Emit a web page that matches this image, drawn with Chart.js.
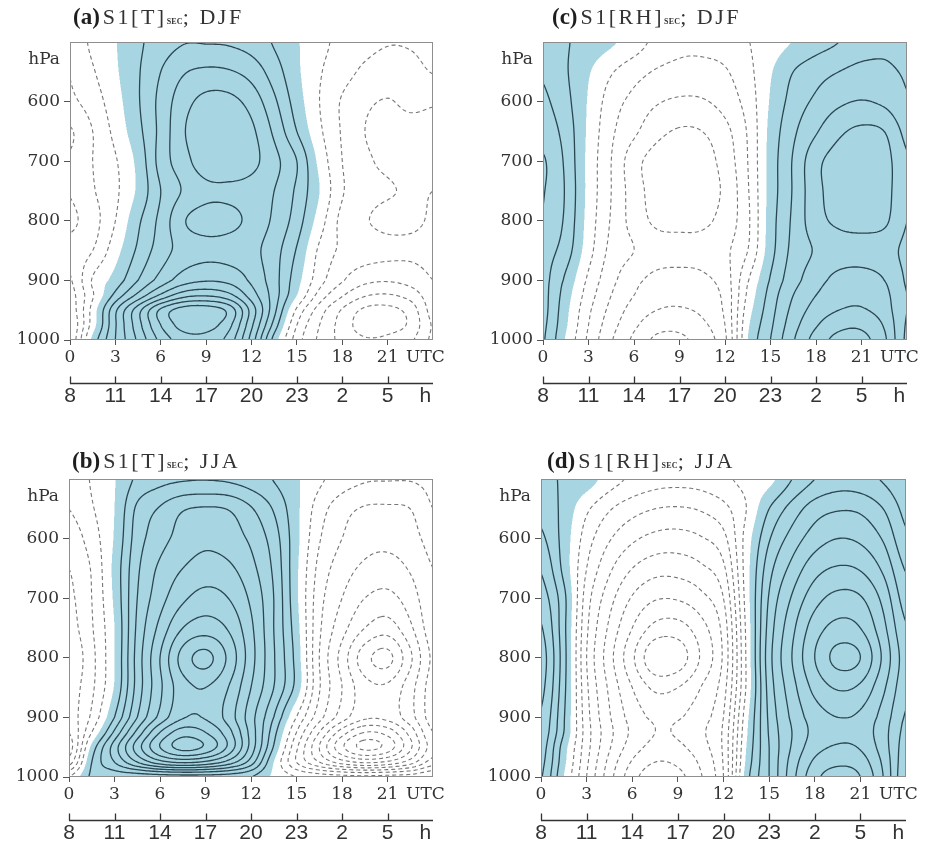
<!DOCTYPE html>
<html>
<head>
<meta charset="utf-8">
<title>S1 diurnal cycle sections</title>
<script src="https://cdn.jsdelivr.net/npm/chart.js@4.4.1/dist/chart.umd.min.js"></script>
<style>
  html, body { margin: 0; padding: 0; background: #fff; }
  body { position: relative; width: 934px; height: 847px; overflow: hidden; }
  canvas { position: absolute; }
  .title { position: absolute; white-space: nowrap; color: #333;
           font: 22px/22px 'Liberation Serif', serif; letter-spacing: 2.5px; }
  .title b { font: bold 23px 'Liberation Serif', serif; letter-spacing: 0; color: #1e1e1e; margin-right: 3px; }
  .title .sub { font: bold 8px 'Liberation Serif', serif; letter-spacing: 0.2px; }
  .title .gap { margin-left: 8px; }
</style>
</head>
<body>
<canvas id="panelA" width="465" height="420" style="left:0;top:0"></canvas>
<canvas id="panelC" width="469" height="420" style="left:465px;top:0"></canvas>
<canvas id="panelB" width="465" height="427" style="left:0;top:420px"></canvas>
<canvas id="panelD" width="469" height="427" style="left:465px;top:420px"></canvas>
<div class="title" style="left:73px;top:4px"><b>(a)</b>S1[T]<span class="sub">SEC</span>;<span class="gap">DJF</span></div>
<div class="title" style="left:552px;top:4px"><b>(c)</b>S1[RH]<span class="sub">SEC</span>;<span class="gap">DJF</span></div>
<div class="title" style="left:72px;top:448px"><b>(b)</b>S1[T]<span class="sub">SEC</span>;<span class="gap">JJA</span></div>
<div class="title" style="left:547px;top:448px"><b>(d)</b>S1[RH]<span class="sub">SEC</span>;<span class="gap">JJA</span></div>
<script>
// grid columns (UTC hour) and rows (pressure, hPa)
const hoursUTC = [0, 1.5, 3, 4.5, 6, 7.5, 9, 10.5, 12, 13.5, 15, 16.5, 18, 19.5, 21, 22.5, 24];
const pressureLevels = [500, 550, 600, 650, 700, 750, 800, 850, 900, 925, 950, 975, 1000];

const utcTicks = [0, 3, 6, 9, 12, 15, 18, 21];
const localTimeLabels = ['8', '11', '14', '17', '20', '23', '2', '5'];
const pressureTicks = [600, 700, 800, 900, 1000];

// S1[T] DJF  (rows follow pressureLevels, columns follow hoursUTC)
const tempDJF = [
  [-1.6, -0.8, -0.05, 0.8, 1.5, 1.95, 1.95, 1.9, 1.6, 0.9, 0.1, -0.7, -1.3, -1.7, -1.95, -1.9, -1.6],
  [-1.95, -1.1, -0.15, 0.9, 2.0, 2.9, 3.2, 3.1, 2.6, 1.5, 0.2, -0.9, -1.6, -2.2, -2.5, -2.4, -1.95],
  [-2.2, -1.5, -0.4, 0.9, 2.3, 3.6, 4.3, 4.3, 3.6, 2.2, 0.5, -1.0, -2.1, -2.8, -3.05, -2.8, -2.9],
  [-3.1, -2.0, -0.7, 0.7, 2.3, 3.9, 4.7, 4.8, 4.2, 2.8, 1.0, -0.8, -2.1, -3.0, -3.3, -3.3, -3.2],
  [-2.9, -2.0, -1.1, 0.3, 2.4, 3.6, 4.6, 4.7, 4.3, 3.3, 2.0, -0.3, -2.0, -2.8, -3.2, -3.3, -3.15],
  [-2.95, -2.1, -1.2, 0.2, 2.0, 3.1, 3.75, 3.8, 3.6, 3.0, 1.8, 0.0, -1.9, -2.6, -2.9, -3.1, -3.0],
  [-3.2, -2.4, -1.0, 0.8, 2.3, 3.9, 4.4, 4.3, 3.7, 2.8, 1.5, -0.5, -2.3, -2.9, -3.3, -3.2, -2.9],
  [-2.7, -2.0, -0.4, 1.2, 2.5, 3.4, 3.7, 3.6, 3.3, 2.4, 0.9, -1.2, -2.2, -2.5, -2.7, -2.8, -2.7],
  [-3.1, -0.9, 0.4, 2.0, 3.4, 4.5, 4.9, 4.7, 3.8, 2.4, 0.4, -1.6, -2.9, -3.7, -3.9, -3.6, -3.0],
  [-3.4, -1.1, 1.3, 3.3, 5.2, 6.6, 6.9, 6.3, 4.5, 2.5, 0.0, -2.4, -3.9, -4.9, -5.1, -4.6, -3.4],
  [-3.6, -0.6, 2.8, 5.6, 8.2, 9.5, 9.6, 8.7, 5.6, 2.3, -1.2, -3.5, -5.1, -6.2, -6.3, -5.6, -3.6],
  [-3.9, -0.5, 2.9, 5.6, 8.0, 9.4, 9.4, 8.3, 5.2, 1.6, -2.0, -4.0, -5.4, -6.5, -6.4, -5.8, -3.9],
  [-3.8, 0.3, 3.0, 5.2, 7.3, 8.5, 8.6, 7.6, 4.6, 0.6, -2.5, -4.2, -5.3, -5.9, -5.8, -5.2, -3.8]
];

// S1[RH] DJF
const rhDJF = [
  [1.7, 1.1, 0.6, 0.15, -0.5, -1.3, -1.75, -1.8, -1.6, -1.05, -0.5, 0.05, 0.6, 1.0, 1.5, 1.8, 1.6],
  [1.9, 1.1, 0.1, -0.9, -1.6, -2.1, -2.3, -2.3, -2.1, -1.3, -0.1, 1.0, 1.6, 2.0, 2.3, 2.2, 1.9],
  [2.2, 1.3, -0.1, -1.5, -2.3, -2.9, -3.15, -3.1, -2.6, -1.6, 0.1, 1.4, 2.2, 2.8, 3.05, 2.8, 2.1],
  [2.6, 1.6, -0.2, -1.8, -2.8, -3.7, -4.1, -4.0, -3.3, -1.9, 0.3, 1.8, 2.9, 3.8, 4.2, 4.0, 2.7],
  [3.1, 1.8, -0.3, -2.0, -3.6, -4.4, -4.5, -4.4, -3.6, -2.0, 0.4, 2.1, 3.7, 4.4, 4.6, 4.4, 3.1],
  [3.05, 1.9, -0.3, -2.0, -3.5, -4.4, -4.5, -4.4, -3.8, -2.1, 0.4, 2.1, 3.7, 4.4, 4.6, 4.4, 3.1],
  [2.9, 1.8, -0.4, -2.1, -3.4, -4.2, -4.3, -4.2, -3.6, -2.2, 0.5, 2.2, 3.6, 4.2, 4.35, 4.2, 3.0],
  [2.4, 1.5, -0.6, -2.3, -3.0, -3.5, -3.6, -3.6, -3.2, -2.0, 0.6, 2.3, 3.1, 3.5, 3.6, 3.4, 2.8],
  [2.3, 0.8, -1.2, -2.7, -3.7, -4.3, -4.4, -4.2, -3.5, -1.1, 1.1, 2.6, 3.6, 4.3, 4.4, 4.0, 2.9],
  [2.3, 0.5, -1.5, -3.0, -4.0, -4.6, -4.75, -4.5, -3.7, -0.8, 1.4, 3.0, 4.0, 4.6, 4.75, 4.3, 3.0],
  [2.3, 0.3, -1.8, -3.3, -4.4, -5.0, -5.1, -4.8, -3.8, -0.5, 1.6, 3.3, 4.4, 5.0, 5.1, 4.5, 3.0],
  [2.2, 0.15, -2.0, -3.6, -4.8, -5.6, -5.7, -5.2, -4.0, -0.2, 1.8, 3.6, 4.9, 5.7, 5.8, 4.9, 2.9],
  [2.1, -0.1, -2.2, -3.9, -5.2, -6.2, -6.2, -5.5, -4.2, 0.0, 2.0, 3.9, 5.4, 6.3, 6.3, 5.2, 2.8]
];

// S1[T] JJA
const tempJJA = [
  [-1.8, -0.9, -0.05, 1.2, 1.7, 1.9, 1.95, 1.85, 1.5, 0.95, 0.15, -0.8, -1.5, -1.9, -1.95, -1.95, -1.8],
  [-2.0, -1.1, 0.0, 2.2, 3.1, 3.9, 4.1, 3.95, 3.1, 1.9, 0.25, -1.5, -2.6, -3.1, -3.15, -3.0, -2.0],
  [-2.6, -1.5, 0.1, 2.5, 3.6, 4.4, 4.75, 4.5, 3.8, 2.5, 0.3, -1.9, -3.0, -3.6, -3.7, -3.4, -2.6],
  [-3.0, -1.9, 0.3, 2.8, 4.2, 5.0, 5.4, 5.2, 4.3, 2.8, 0.2, -2.3, -3.5, -4.2, -4.4, -3.9, -3.0],
  [-3.2, -2.0, 0.2, 3.0, 4.6, 5.8, 6.4, 6.0, 4.8, 3.0, 0.2, -2.6, -4.0, -5.0, -5.3, -4.5, -3.2],
  [-3.4, -2.1, 0.0, 3.2, 5.3, 7.0, 7.5, 6.9, 5.2, 3.0, 0.4, -2.8, -4.6, -6.0, -6.5, -5.2, -3.4],
  [-3.8, -2.3, 0.0, 3.4, 6.0, 8.4, 9.3, 7.8, 5.4, 3.1, 0.6, -3.0, -5.4, -7.6, -8.3, -6.2, -3.8],
  [-3.5, -2.2, 0.1, 3.4, 5.8, 7.6, 8.0, 7.0, 5.0, 3.0, 0.6, -2.9, -5.0, -6.6, -6.8, -5.4, -3.5],
  [-3.5, -1.8, 1.0, 4.0, 6.3, 7.9, 7.9, 6.6, 4.4, 2.0, -1.0, -3.6, -5.5, -6.8, -6.7, -5.4, -3.5],
  [-4.0, -1.0, 2.2, 5.3, 8.0, 9.5, 9.0, 7.4, 4.6, 1.4, -2.0, -5.0, -7.5, -9.0, -8.6, -6.6, -4.0],
  [-4.5, 0.3, 3.5, 6.5, 9.0, 10.4, 9.8, 7.8, 4.6, 0.9, -2.8, -6.0, -8.8, -10.3, -9.6, -7.2, -4.5],
  [-3.5, 1.0, 3.0, 5.0, 6.6, 7.2, 6.8, 5.6, 3.5, 0.0, -3.0, -5.0, -6.5, -7.2, -6.8, -5.5, -3.5],
  [-1.0, 1.2, 1.3, 1.3, 1.4, 1.5, 1.5, 1.4, 1.0, -0.2, -1.0, -1.4, -1.6, -1.7, -1.6, -1.5, -1.0]
];

// S1[RH] JJA
const rhJJA = [
  [1.2, 0.9, 0.5, -0.5, -1.2, -1.6, -1.7, -1.6, -1.2, -0.7, -0.3, 1.0, 2.0, 2.5, 2.4, 1.9, 1.2],
  [1.7, 0.7, -0.8, -1.9, -2.6, -3.0, -3.1, -2.9, -2.3, -1.0, 1.0, 2.4, 3.5, 3.9, 3.8, 3.0, 1.7],
  [2.2, 0.6, -1.5, -2.9, -3.8, -4.3, -4.4, -4.1, -3.3, -0.6, 1.9, 3.4, 4.5, 5.0, 4.8, 3.9, 2.2],
  [2.9, 0.7, -2.0, -3.8, -5.0, -5.6, -5.6, -5.2, -4.2, -0.5, 2.6, 4.3, 5.6, 6.1, 5.9, 4.8, 2.9],
  [3.5, 1.3, -2.5, -4.6, -6.1, -6.9, -6.9, -6.3, -5.0, -0.6, 3.1, 5.1, 6.6, 7.3, 7.1, 5.7, 3.5],
  [4.1, 1.3, -2.8, -5.2, -7.0, -8.3, -8.4, -7.4, -5.6, -0.8, 3.4, 5.7, 7.5, 8.3, 8.0, 6.3, 4.1],
  [4.5, 1.4, -3.0, -5.6, -7.8, -9.8, -9.6, -7.9, -5.8, -0.9, 3.6, 6.0, 8.0, 9.3, 9.0, 6.8, 4.5],
  [4.3, 1.3, -2.8, -5.2, -7.0, -8.2, -8.0, -7.0, -5.4, -0.9, 3.4, 5.6, 7.3, 8.1, 7.8, 6.2, 4.3],
  [3.9, 1.1, -2.6, -4.9, -6.4, -7.2, -7.1, -6.4, -5.0, -0.4, 3.2, 5.2, 6.5, 7.0, 6.8, 5.6, 3.9],
  [3.7, 1.0, -2.5, -4.7, -6.2, -7.0, -6.9, -6.2, -4.8, -0.2, 3.1, 5.0, 6.3, 6.8, 6.6, 5.4, 3.7],
  [3.5, 0.5, -2.6, -4.9, -6.5, -7.3, -7.2, -6.4, -4.8, 0.0, 3.0, 5.1, 6.6, 7.1, 6.9, 5.5, 3.5],
  [3.3, 0.3, -2.8, -5.3, -7.1, -8.0, -7.8, -6.8, -4.9, 0.2, 3.0, 5.4, 7.2, 7.8, 7.5, 5.8, 3.3],
  [3.1, 0.0, -3.0, -5.6, -7.6, -8.6, -8.3, -7.1, -5.0, 0.5, 3.0, 5.6, 7.7, 8.4, 8.0, 6.0, 3.1]
];

const UNIT_X = 23.5;   // where "UTC" / "h" sit on the time axes
const UNIT_Y = 530;    // where "hPa" sits on the pressure axis
const FILL = [168, 213, 226];
const SOLID = '#2a4651';
const DASHED = '#777';

function fracIndex(arr, v) {
  const n = arr.length - 1;
  if (v <= arr[0]) return 0;
  if (v >= arr[n]) return n;
  let i = 0;
  while (arr[i + 1] < v) i++;
  return i + (v - arr[i]) / (arr[i + 1] - arr[i]);
}

function cr(a, b, c, d, s) {
  return b + 0.5 * s * (c - a + s * (2 * a - 5 * b + 4 * c - d + s * (3 * (b - c) + d - a)));
}

// smooth (Catmull-Rom) reading of a grid at fractional indices
function makeSampler(grid) {
  const nr = grid.length, nc = grid[0].length;
  const at = (r, c) => grid[r < 0 ? 0 : r >= nr ? nr - 1 : r][c < 0 ? 0 : c >= nc ? nc - 1 : c];
  return (u, v) => {
    let c0 = Math.floor(u), r0 = Math.floor(v);
    if (c0 > nc - 2) c0 = nc - 2;
    if (r0 > nr - 2) r0 = nr - 2;
    const su = u - c0, sv = v - r0;
    const r = [];
    for (let k = -1; k <= 2; k++) {
      r.push(cr(at(r0 + k, c0 - 1), at(r0 + k, c0), at(r0 + k, c0 + 1), at(r0 + k, c0 + 2), su));
    }
    return cr(r[0], r[1], r[2], r[3], sv);
  };
}

// marching squares, segments chained into polylines
function trace(vals, nx, ny, xs, ys, level) {
  const W = nx + 1;
  const pts = new Map(), adj = new Map();
  const hId = (i, j) => (j * nx + i) * 2;
  const vId = (i, j) => (j * W + i) * 2 + 1;
  const cross = (id, i1, j1, i2, j2) => {
    if (!pts.has(id)) {
      const a = vals[j1 * W + i1], b = vals[j2 * W + i2];
      const s = (level - a) / (b - a);
      pts.set(id, [xs[i1] + (xs[i2] - xs[i1]) * s, ys[j1] + (ys[j2] - ys[j1]) * s]);
    }
    return id;
  };
  const link = (p, q) => {
    if (!adj.has(p)) adj.set(p, []);
    if (!adj.has(q)) adj.set(q, []);
    adj.get(p).push(q);
    adj.get(q).push(p);
  };
  for (let j = 0; j < ny; j++) {
    for (let i = 0; i < nx; i++) {
      const a = vals[j * W + i], b = vals[j * W + i + 1];
      const c = vals[(j + 1) * W + i + 1], d = vals[(j + 1) * W + i];
      const A = a > level, B = b > level, C = c > level, D = d > level;
      const e = [];
      if (A !== B) e.push(cross(hId(i, j), i, j, i + 1, j));
      if (B !== C) e.push(cross(vId(i + 1, j), i + 1, j, i + 1, j + 1));
      if (C !== D) e.push(cross(hId(i, j + 1), i, j + 1, i + 1, j + 1));
      if (D !== A) e.push(cross(vId(i, j), i, j, i, j + 1));
      if (e.length === 2) link(e[0], e[1]);
      else if (e.length === 4) {
        const mid = (a + b + c + d) / 4 > level;
        if (A === mid) { link(e[0], e[1]); link(e[2], e[3]); }
        else { link(e[3], e[0]); link(e[1], e[2]); }
      }
    }
  }
  const used = new Set(), lines = [];
  const walk = (start) => {
    const line = [start];
    used.add(start);
    let cur = start;
    for (;;) {
      const nb = adj.get(cur).find(n => !used.has(n));
      if (nb === undefined) {
        if (line.length > 2 && adj.get(cur).includes(start)) line.push(start);
        break;
      }
      used.add(nb);
      line.push(nb);
      cur = nb;
    }
    return line.map(id => pts.get(id));
  };
  for (const [id, nb] of adj) if (nb.length === 1 && !used.has(id)) lines.push(walk(id));
  for (const id of adj.keys()) if (!used.has(id)) lines.push(walk(id));
  return lines;
}

const contourLayer = (grid) => ({
  id: 'contour',
  beforeDatasetsDraw(chart) {
    const { ctx, chartArea: a, scales: { x, y } } = chart;
    const field = makeSampler(grid);
    const W = Math.round(a.right - a.left), H = Math.round(a.bottom - a.top);

    // shading of the positive part, 2x2 samples per pixel
    const uSub = [], vSub = [];
    for (let i = 0; i < W * 2; i++) uSub.push(fracIndex(hoursUTC, x.getValueForPixel(a.left + (i + 0.5) / 2)));
    for (let j = 0; j < H * 2; j++) vSub.push(fracIndex(pressureLevels, y.getValueForPixel(a.top + (j + 0.5) / 2)));
    const off = document.createElement('canvas');
    off.width = W; off.height = H;
    const octx = off.getContext('2d');
    const img = octx.createImageData(W, H);
    for (let j = 0; j < H; j++) {
      for (let i = 0; i < W; i++) {
        let n = 0;
        for (let dj = 0; dj < 2; dj++)
          for (let di = 0; di < 2; di++)
            if (field(uSub[2 * i + di], vSub[2 * j + dj]) > 0) n++;
        if (n) {
          const k = (j * W + i) * 4;
          img.data[k] = FILL[0]; img.data[k + 1] = FILL[1]; img.data[k + 2] = FILL[2];
          img.data[k + 3] = Math.round(255 * n / 4);
        }
      }
    }
    octx.putImageData(img, 0, 0);
    ctx.drawImage(off, Math.round(a.left), Math.round(a.top));

    // contour lines
    const nx = Math.ceil(W / 2), ny = Math.ceil(H / 2);
    const xs = [], ys = [], us = [], vs = [];
    for (let i = 0; i <= nx; i++) {
      xs.push(a.left + i * W / nx);
      us.push(fracIndex(hoursUTC, x.getValueForPixel(xs[i])));
    }
    for (let j = 0; j <= ny; j++) {
      ys.push(a.top + j * H / ny);
      vs.push(fracIndex(pressureLevels, y.getValueForPixel(ys[j])));
    }
    const vals = new Float64Array((nx + 1) * (ny + 1));
    let lo = Infinity, hi = -Infinity;
    for (let j = 0; j <= ny; j++) {
      for (let i = 0; i <= nx; i++) {
        const v = field(us[i], vs[j]);
        vals[j * (nx + 1) + i] = v;
        if (v < lo) lo = v;
        if (v > hi) hi = v;
      }
    }
    ctx.save();
    ctx.beginPath();
    ctx.rect(a.left, a.top, a.right - a.left, a.bottom - a.top);
    ctx.clip();
    ctx.lineJoin = 'round';
    const stroke = (lines) => {
      for (const l of lines) {
        if (l.length < 2) continue;
        ctx.beginPath();
        ctx.moveTo(l[0][0], l[0][1]);
        for (let k = 1; k < l.length; k++) ctx.lineTo(l[k][0], l[k][1]);
        ctx.stroke();
      }
    };
    ctx.strokeStyle = DASHED; ctx.lineWidth = 1.1; ctx.setLineDash([4, 3]);
    for (let L = -1; L >= Math.ceil(lo); L--) stroke(trace(vals, nx, ny, xs, ys, L));
    ctx.strokeStyle = SOLID; ctx.lineWidth = 1.3; ctx.setLineDash([]);
    for (let L = 1; L <= Math.floor(hi); L++) stroke(trace(vals, nx, ny, xs, ys, L));
    ctx.restore();
  }
});

const frameLayer = {
  id: 'frame',
  afterDraw(chart) {
    const { ctx, chartArea: a, scales } = chart;
    ctx.save();
    ctx.strokeStyle = '#8e8e8e';
    ctx.lineWidth = 1;
    ctx.strokeRect(a.left + 0.5, a.top + 0.5, a.right - a.left - 1, a.bottom - a.top - 1);
    // local-time axis: base line with ticks pointing up
    const x2 = scales.x2;
    const yb = Math.round(x2.top + 13) + 0.5;
    ctx.strokeStyle = '#333';
    ctx.lineWidth = 1.3;
    ctx.beginPath();
    ctx.moveTo(x2.getPixelForValue(0), yb);
    ctx.lineTo(x2.getPixelForValue(24), yb);
    utcTicks.forEach(v => {
      const px = Math.round(x2.getPixelForValue(v)) + 0.5;
      ctx.moveTo(px, yb);
      ctx.lineTo(px, yb - 7);
    });
    ctx.stroke();
    ctx.restore();
  }
};

const hideUnitTick = (unit) => (c) => (c.tick && c.tick.value === unit) ? 'rgba(0,0,0,0)' : '#555';

function drawPanel(canvasId, grid, box) {
  return new Chart(document.getElementById(canvasId), {
    type: 'scatter',
    data: { datasets: [{ data: [], pointRadius: 0 }] },
    options: {
      responsive: false,
      animation: false,
      devicePixelRatio: 1,
      events: [],
      layout: { padding: { left: 0, top: box.top, right: box.right, bottom: box.bottom } },
      plugins: { legend: { display: false }, tooltip: { enabled: false } },
      scales: {
        x: {
          type: 'linear', axis: 'x', position: 'bottom', weight: 0, min: 0, max: 24,
          afterBuildTicks: s => { s.ticks = utcTicks.concat([UNIT_X]).map(value => ({ value })); },
          afterFit: s => { s.height = 30; },
          border: { display: false },
          grid: { drawOnChartArea: false, tickLength: 5, tickColor: hideUnitTick(UNIT_X) },
          ticks: {
            autoSkip: false, maxRotation: 0, padding: 2, color: '#333',
            font: { family: 'DejaVu Serif', size: 17 },
            callback: v => v === UNIT_X ? 'UTC' : String(v)
          }
        },
        x2: {
          type: 'linear', axis: 'x', position: 'bottom', weight: 1, min: 0, max: 24,
          afterBuildTicks: s => { s.ticks = utcTicks.concat([UNIT_X]).map(value => ({ value })); },
          afterFit: s => { s.height = 40; },
          border: { display: false },
          grid: { display: false, drawTicks: false, drawOnChartArea: false },
          ticks: {
            autoSkip: false, maxRotation: 0, padding: 14, color: '#333',
            font: { family: 'Liberation Sans', size: 21 },
            callback: (v, i) => i < localTimeLabels.length ? localTimeLabels[i] : 'h'
          }
        },
        y: {
          type: 'linear', position: 'left', reverse: true, min: 500, max: 1000,
          afterBuildTicks: s => { s.ticks = [UNIT_Y].concat(pressureTicks).map(value => ({ value })); },
          afterFit: s => { s.width = box.yWidth; },
          border: { display: false },
          grid: { drawOnChartArea: false, tickLength: 6, tickColor: hideUnitTick(UNIT_Y) },
          ticks: {
            padding: 4, color: '#333',
            font: { family: 'DejaVu Serif', size: 17 },
            callback: v => v === UNIT_Y ? 'hPa' : String(v)
          }
        }
      }
    },
    plugins: [contourLayer(grid), frameLayer]
  });
}

drawPanel('panelA', tempDJF, { yWidth: 70, top: 42, right: 32, bottom: 10 });
drawPanel('panelC', rhDJF, { yWidth: 78, top: 42, right: 27, bottom: 10 });
drawPanel('panelB', tempJJA, { yWidth: 69, top: 59, right: 32, bottom: 0 });
drawPanel('panelD', rhJJA, { yWidth: 76, top: 59, right: 28, bottom: 0 });
</script>
</body>
</html>
